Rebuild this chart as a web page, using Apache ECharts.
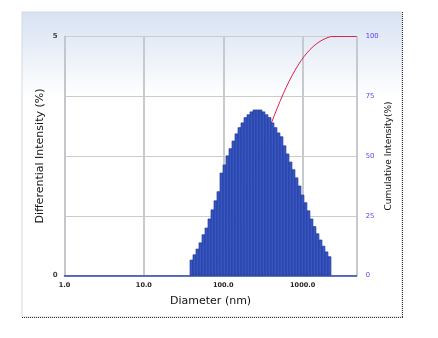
<!DOCTYPE html>
<html>
<head>
<meta charset="utf-8">
<script src="https://cdn.jsdelivr.net/npm/echarts@6/dist/echarts.min.js"></script>
<style>
html,body{margin:0;padding:0;background:#fff;}
#wrap{position:relative;width:438px;height:338px;}
#base,#bars{position:absolute;left:0;top:0;width:438px;height:338px;}
</style>
</head>
<body>
<div id="wrap"><div id="base"></div><div id="bars"></div></div>
<script>
// Bin centre diameters (nm)
const diameters = [39.8, 43.4, 47.3, 51.6, 56.3, 61.4, 67.0, 73.1, 79.8, 87.0,
  94.9, 103.6, 113.0, 123.3, 134.5, 146.7, 160.1, 174.6, 190.5, 207.8,
  226.7, 247.4, 269.9, 294.4, 321.2, 350.4, 382.3, 417.1, 455.0, 496.4,
  541.6, 590.8, 644.6, 703.2, 767.2, 837.0, 913.0, 995.6, 1086, 1185,
  1293, 1410, 1539, 1679, 1831, 1998, 2180];
// Differential intensity (%)
const differential = [0.33, 0.44, 0.56, 0.69, 0.86, 1.00, 1.19, 1.38, 1.57, 1.76,
  2.15, 2.32, 2.51, 2.66, 2.82, 2.97, 3.10, 3.20, 3.31, 3.37,
  3.43, 3.47, 3.47, 3.47, 3.43, 3.37, 3.31, 3.20, 3.10, 2.99,
  2.91, 2.72, 2.55, 2.38, 2.22, 2.05, 1.88, 1.69, 1.53, 1.36,
  1.19, 1.03, 0.88, 0.75, 0.62, 0.50, 0.40];
// Cumulative curve: diameters (nm) and cumulative intensity (%)
const cumDiameters = [38.1, 41.6, 45.3, 49.4, 53.9, 58.8, 64.1, 70.0, 76.4, 83.4, 90.9,
  99.1, 108.2, 118.0, 128.8, 140.5, 153.2, 167.2, 182.4, 199.0, 217.0,
  236.8, 258.4, 281.9, 307.5, 335.5, 366.0, 399.3, 435.7, 475.2, 518.5,
  565.7, 617.1, 673.3, 734.5, 801.3, 874.2, 953.6, 1040, 1134, 1238,
  1351, 1473, 1607, 1754, 1913, 2087, 2277, 4800];
const cumulative = [0, 0.34, 0.78, 1.36, 2.06, 2.94, 3.96, 5.17, 6.58, 8.18, 9.97,
  12.16, 14.53, 17.09, 19.80, 22.67, 25.70, 28.86, 32.12, 35.50, 38.93,
  42.43, 45.97, 49.51, 53.04, 56.54, 59.98, 63.35, 66.61, 69.77, 72.82,
  75.79, 78.56, 81.16, 83.59, 85.85, 87.94, 89.86, 91.58, 93.14, 94.53,
  95.74, 96.79, 97.69, 98.45, 99.08, 99.59, 100, 100];
const leftTicks = [0, 5];
const xMin = 1, xMax = 4800;

const F = 'DejaVu Sans';
const grid = {left: 64.5, right: 81.3, top: 36.5, bottom: 62.5, containLabel: false};

// Base layer: panel, axes, grid lines, cumulative curve
const base = echarts.init(document.getElementById('base'), null, {renderer: 'canvas'});
base.setOption({
  animation: false,
  backgroundColor: '#ffffff',
  graphic: [
    {type: 'rect', z: -10, shape: {x: 22, y: 12, width: 380, height: 305},
      style: {fill: new echarts.graphic.LinearGradient(0, 0, 0, 1, [
        {offset: 0, color: '#d7e2f2'}, {offset: 0.28, color: '#ffffff'}, {offset: 1, color: '#ffffff'}]),
        stroke: '#d4d8de', lineWidth: 1}},
    {type: 'line', z: -9, shape: {x1: 402.5, y1: 12, x2: 402.5, y2: 317},
      style: {stroke: '#333', lineWidth: 1, lineDash: [1, 1]}},
    {type: 'line', z: -9, shape: {x1: 22, y1: 317.5, x2: 403, y2: 317.5},
      style: {stroke: '#333', lineWidth: 1, lineDash: [1, 1]}}
  ],
  grid: grid,
  xAxis: {
    type: 'log', logBase: 10, min: xMin, max: xMax,
    name: 'Diameter (nm)', nameLocation: 'middle', nameGap: 20, nameMoveOverlap: false,
    nameTextStyle: {fontFamily: F, fontSize: 11, color: '#111'},
    axisLine: {show: true, lineStyle: {color: '#2846a8', width: 1.5}},
    axisTick: {show: false},
    axisLabel: {fontFamily: F, fontSize: 6.5, fontWeight: 'bold', color: '#222', margin: 6,
      showMaxLabel: false, formatter: v => Number(v).toFixed(1)},
    splitLine: {show: true, lineStyle: {color: '#c6c9cd', width: 2}}
  },
  yAxis: [
    {type: 'value', min: 0, max: 5, interval: 1.25, position: 'left',
      name: 'Differential Intensity (%)', nameLocation: 'middle', nameGap: 24.5, nameRotate: 90,
      nameMoveOverlap: false,
      nameTextStyle: {fontFamily: F, fontSize: 11, color: '#111', align: 'center', verticalAlign: 'middle'},
      axisLine: {show: true, lineStyle: {color: '#c3c6ca', width: 2}},
      axisTick: {show: false},
      axisLabel: {fontFamily: F, fontSize: 7, fontWeight: 'bold', color: '#444', margin: 7,
        formatter: v => leftTicks.indexOf(v) >= 0 ? String(v) : ''},
      splitLine: {show: true, lineStyle: {color: '#cccccc', width: 1}}},
    {type: 'value', min: 0, max: 100, interval: 25, position: 'right',
      name: 'Cumulative Intensity(%)', nameLocation: 'middle', nameGap: 32, nameRotate: 90,
      nameMoveOverlap: false,
      nameTextStyle: {fontFamily: F, fontSize: 9, color: '#111', align: 'center', verticalAlign: 'middle'},
      axisLine: {show: true, lineStyle: {color: '#c8c8c8', width: 1}},
      axisTick: {show: false},
      axisLabel: {fontFamily: F, fontSize: 6.8, color: '#5a3df2', margin: 9},
      splitLine: {show: false}}
  ],
  series: [
    {type: 'line', yAxisIndex: 1, symbol: 'none', smooth: false,
      lineStyle: {color: '#e2204c', width: 1},
      data: cumDiameters.map((d, i) => [d, cumulative[i]])}
  ]
});

// Top layer: histogram bars (drawn over the cumulative curve)
const bars = echarts.init(document.getElementById('bars'), null, {renderer: 'canvas'});
bars.setOption({
  animation: false,
  backgroundColor: 'transparent',
  grid: grid,
  xAxis: {type: 'log', logBase: 10, min: xMin, max: xMax,
    axisLine: {show: false}, axisTick: {show: false}, axisLabel: {show: false}, splitLine: {show: false}},
  yAxis: {type: 'value', min: 0, max: 5, interval: 1.25,
    axisLine: {show: false}, axisTick: {show: false}, axisLabel: {show: false}, splitLine: {show: false}},
  series: [
    {type: 'bar', barWidth: 3.6,
      itemStyle: {color: '#3656c6', borderColor: '#1f3894', borderWidth: 0.7},
      data: diameters.map((d, i) => [d, differential[i]])}
  ]
});
</script>
</body>
</html>
